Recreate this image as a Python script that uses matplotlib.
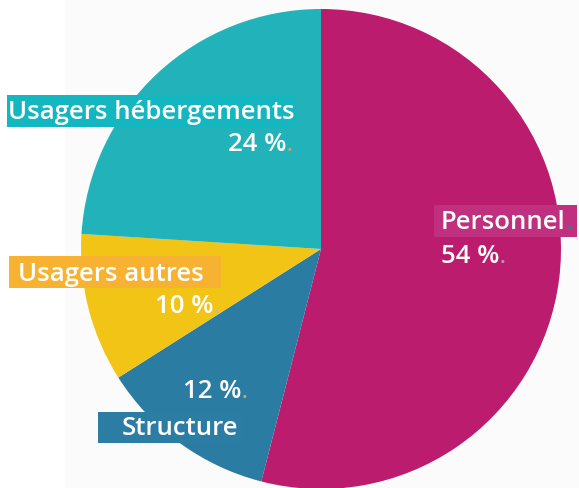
import matplotlib
matplotlib.use("Agg")
import matplotlib.pyplot as plt
from matplotlib.patches import Rectangle

# Data
categories = ["Personnel", "Structure", "Usagers autres", "Usagers hébergements"]
values = [54, 12, 10, 24]
pct_labels = ["54 %", "12 %", "10 %", "24 %"]
colors = ["#BC1C6E", "#2A7CA3", "#F2C416", "#22B3BA"]
box_colors = ["#C0307E", "#2B7DA4", "#F8B232", "#14B6BF"]

W, H = 579, 488
fig = plt.figure(figsize=(W / 100, H / 100), dpi=100)
ax = fig.add_axes([0, 0, 1, 1])
fig.patch.set_facecolor("white")
ax.add_patch(Rectangle((65, 0), W - 65, H, color="#FBFBFB", zorder=0))

cx, cy, r = 321, H - 249, 240
ax.pie(values, colors=colors, startangle=90, counterclock=False,
       center=(cx, cy), radius=r, frame=True,
       wedgeprops=dict(linewidth=0))
ax.set_xlim(0, W)
ax.set_ylim(0, H)
ax.set_aspect("auto")
ax.axis("off")

FONT = "Open Sans"
FS = 18.5
WEIGHT = "semibold"

def Y(y):
    return H - y

def box(x0, y0, x1, y1, color):
    ax.add_patch(Rectangle((x0, Y(y1)), x1 - x0, y1 - y0, color=color, zorder=3, linewidth=0))

def txt(x, y, s, ha="left", color="white", size=FS):
    return ax.text(x, Y(y), s, ha=ha, va="baseline", color=color, fontsize=size,
                   family=FONT, fontweight=WEIGHT, zorder=4)

def dot(t, y, color):
    ax.annotate(".", xy=(1, Y(y)), xycoords=(t, "data"), xytext=(0.5, 0),
                textcoords="offset points", ha="left", va="baseline",
                color=color, fontsize=FS * 0.8, family=FONT, fontweight=WEIGHT, zorder=4)

# Usagers hébergements
box(7, 95, 295, 127, box_colors[3])
txt(8, 119, categories[3])
t = txt(286, 151, pct_labels[3], ha="right")
dot(t, 151, "#E0A060")

# Usagers autres
box(9, 256, 221, 288, box_colors[2])
txt(18, 281, categories[2])
t = txt(213, 313, pct_labels[2], ha="right")
dot(t, 313, "#C8B8A8")

# Structure
box(98, 412, 244, 443, box_colors[1])
txt(238, 435, categories[1], ha="right")
t = txt(241, 398, pct_labels[1], ha="right")
dot(t, 398, "#E0A060")

# Personnel
box(434, 205, 577, 237, box_colors[0])
t = txt(441, 229, categories[0])
dot(t, 229, "#2A7CA3")
t = txt(441, 263, pct_labels[0])
dot(t, 263, "#B0A0A8")

fig.savefig("out.png", dpi=100)
